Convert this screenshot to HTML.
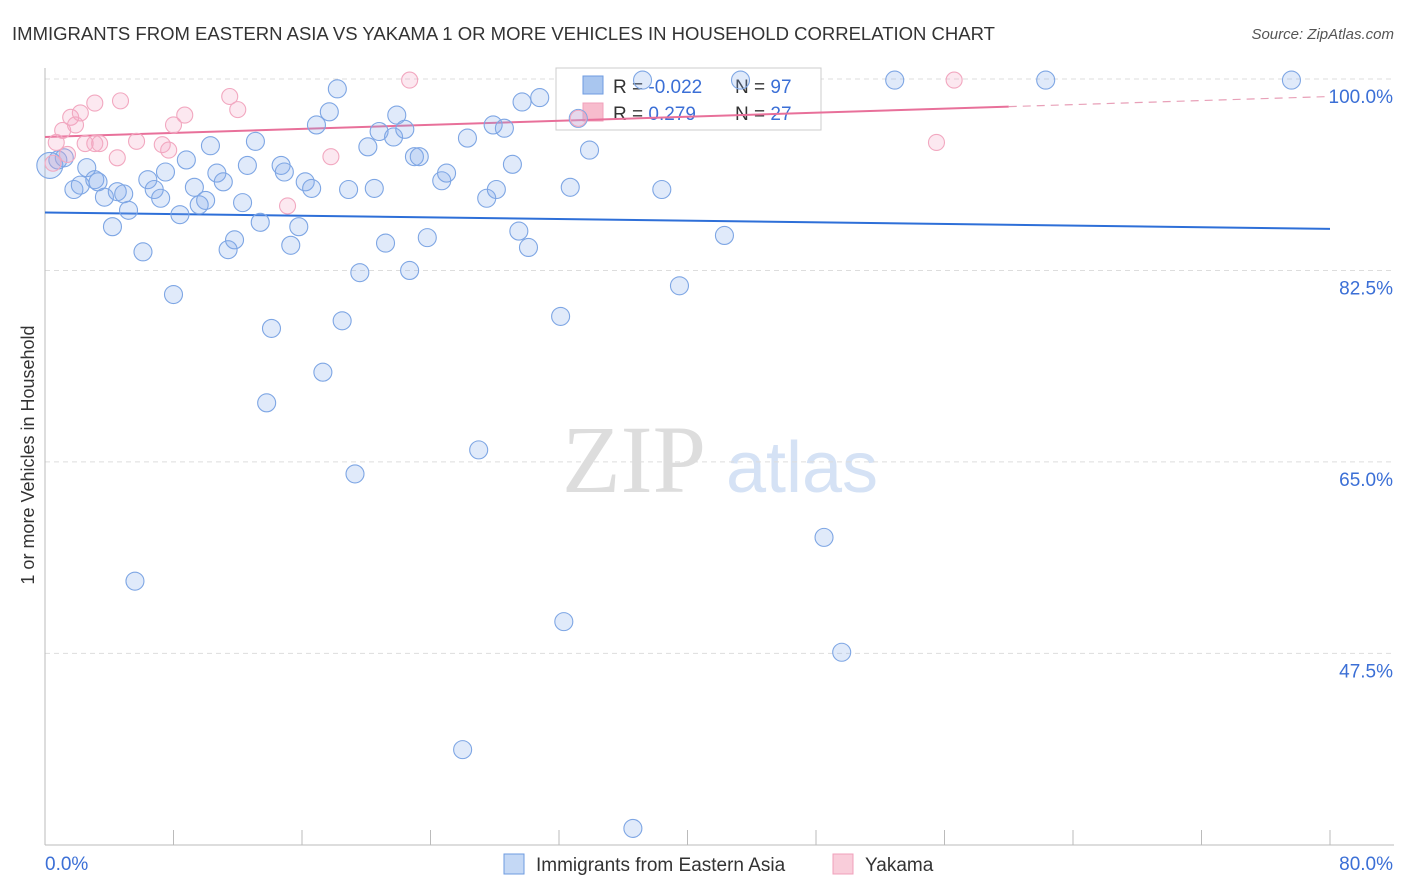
<!DOCTYPE html>
<html><head><meta charset="utf-8"><style>
body{margin:0;background:#fff;font-family:"Liberation Sans",sans-serif}
svg{display:block}
</style></head><body>
<svg id="chart" width="1406" height="892" xmlns="http://www.w3.org/2000/svg">
<text x="12" y="40" font-size="18" fill="#333" textLength="983" lengthAdjust="spacingAndGlyphs">IMMIGRANTS FROM EASTERN ASIA VS YAKAMA 1 OR MORE VEHICLES IN HOUSEHOLD CORRELATION CHART</text>
<text x="1394" y="39" font-size="15" fill="#555" font-style="italic" text-anchor="end">Source: ZipAtlas.com</text>
<text x="634" y="492" font-size="96" fill="#ddd" font-family="Liberation Serif,serif" text-anchor="middle">ZIP</text>
<text x="802" y="492" font-size="72" fill="#d5e2f5" text-anchor="middle">atlas</text>
<text x="34" y="455" font-size="18" fill="#333" text-anchor="middle" transform="rotate(-90 34 455)">1 or more Vehicles in Household</text>
<g id="grid"></g><g id="axes"></g>
<g>
<rect x="556" y="68" width="265" height="62" fill="#fff" stroke="#ccc"/>
<rect x="583" y="76" width="20" height="18" fill="#a9c6ef" stroke="#6e9be0"/>
<text x="613" y="93" font-size="19" fill="#333">R = <tspan fill="#3b6fd6">-0.022</tspan></text>
<text x="735" y="93" font-size="19" fill="#333">N = <tspan fill="#3b6fd6">97</tspan></text>
<rect x="583" y="103" width="20" height="18" fill="#f7bccd" stroke="#f0a0bb"/>
<text x="613" y="120" font-size="19" fill="#333">R = <tspan fill="#3b6fd6">  0.279</tspan></text>
<text x="735" y="120" font-size="19" fill="#333">N = <tspan fill="#3b6fd6">27</tspan></text>
</g>
<g id="trend"></g><g id="pts"></g>
<g>
<rect x="504" y="854" width="20" height="20" fill="#c4d8f5" stroke="#6e9be0"/>
<text x="536" y="871" font-size="19" fill="#333">Immigrants from Eastern Asia</text>
<rect x="833" y="854" width="20" height="20" fill="#f9cdda" stroke="#f0a0bb"/>
<text x="865" y="871" font-size="19" fill="#333">Yakama</text>
</g>
</svg>
<script>
const yTicks=[100,82.5,65,47.5];
const yTickLabels=["100.0%","82.5%","65.0%","47.5%"];
const blueX=[0.3,0.8,1.2,2.6,1.8,2.2,3.1,3.3,3.7,4.2,4.5,4.9,5.2,5.6,6.1,6.4,6.8,7.2,7.5,8.0,8.4,8.8,9.3,9.6,10.0,10.3,10.7,11.1,11.4,11.8,12.3,12.6,13.1,13.4,13.8,14.1,14.7,14.9,15.3,15.8,16.2,16.6,16.9,17.3,17.7,18.2,18.5,18.9,19.3,19.6,20.1,20.5,20.8,21.2,21.7,21.9,22.4,22.7,23.0,23.3,23.8,24.7,25.0,26.0,26.3,27.0,27.5,27.9,28.1,28.6,29.1,29.5,29.7,30.1,30.8,32.1,32.3,32.7,33.9,36.6,37.2,38.4,39.5,42.3,43.3,48.5,49.6,52.9,62.3,77.6,33.2];
const blueY=[92.1,92.6,92.8,91.9,89.9,90.3,90.8,90.6,89.2,86.5,89.7,89.5,88.0,54.1,84.2,90.8,89.9,89.1,91.5,80.3,87.6,92.6,90.1,88.5,88.9,93.9,91.4,90.6,84.4,85.3,88.7,92.1,94.3,86.9,70.4,77.2,92.1,91.5,84.8,86.5,90.6,90.0,95.8,73.2,97.0,99.1,77.9,89.9,63.9,82.3,93.8,90.0,95.2,85.0,94.7,96.7,95.4,82.5,92.9,92.9,85.5,90.7,91.4,38.7,94.6,66.1,89.1,95.8,89.9,95.5,92.2,86.1,97.9,84.6,98.3,78.3,50.4,90.1,93.5,31.5,99.9,89.9,81.1,85.7,99.9,58.1,47.6,99.9,99.9,99.9,96.4];
const pinkX=[0.5,0.7,1.1,1.6,1.9,2.2,2.5,3.1,3.1,3.4,4.5,4.7,5.7,7.3,7.7,8.0,8.7,11.5,12.0,15.1,17.8,22.7,55.5,56.6,33.2,1.4];
const pinkY=[92.3,94.2,95.3,96.5,95.8,96.9,94.1,97.8,94.1,94.1,92.8,98.0,94.3,94.0,93.5,95.8,96.7,98.4,97.2,88.4,92.9,99.9,94.2,99.9,96.4,93.1];
const blueTrend=[87.8,86.3];   // value at x=0, x=80
const pinkTrend=[94.7,98.4];   // value at x=0, x=80
const NS="http://www.w3.org/2000/svg";
const xs=v=>45+v*(1285/80), ys=v=>79+(100-v)*10.94;
function mk(tag,attrs,parent){const e=document.createElementNS(NS,tag);for(const k in attrs)e.setAttribute(k,attrs[k]);document.getElementById(parent).appendChild(e);return e;}
yTicks.forEach((t,i)=>{
 const g=mk('line',{x1:45,x2:1394,y1:ys(t),y2:ys(t),stroke:'#ddd','stroke-dasharray':'5,4'},'grid');
 
 
 const l=mk('text',{x:1393,y:ys(t)+24,'font-size':19,fill:'#3b6fd6','text-anchor':'end'},'grid');
 l.textContent=yTickLabels[i];
 
 
});
const ax=mk('line',{x1:45,x2:45,y1:68,y2:845,stroke:'#bbb'},'axes');


const bx=mk('line',{x1:45,x2:1394,y1:845,y2:845,stroke:'#bbb'},'axes');


for(let i=0;i<=10;i++){const t=mk('line',{x1:xs(i*8),x2:xs(i*8),y1:830,y2:845,stroke:'#bbb'},'axes');
 
 }
const x0=mk('text',{x:45,y:870,'font-size':19,fill:'#3b6fd6'},'axes');x0.textContent='0.0%';


const x1=mk('text',{x:1393,y:870,'font-size':19,fill:'#3b6fd6','text-anchor':'end'},'axes');x1.textContent='80.0%';


blueX.forEach((x,i)=>{const c=mk('circle',{cx:xs(x),cy:ys(blueY[i]),r:i==0?13:9,fill:'rgba(130,170,235,0.25)',stroke:'#7ea6e4','stroke-width':1.1},'pts');
 
 });
pinkX.forEach((x,i)=>{const c=mk('circle',{cx:xs(x),cy:ys(pinkY[i]),r:8,fill:'rgba(245,165,195,0.25)',stroke:'#f2a8c0','stroke-width':1.1},'pts');
 
 });
const bt=mk('line',{x1:xs(0),y1:ys(blueTrend[0]),x2:xs(80),y2:ys(blueTrend[1]),stroke:'#2e6fd8','stroke-width':2},'trend');


const pm=v=>pinkTrend[0]+(pinkTrend[1]-pinkTrend[0])*v/80;
const pt=mk('line',{x1:xs(0),y1:ys(pm(0)),x2:xs(60),y2:ys(pm(60)),stroke:'#e8709a','stroke-width':2},'trend');


const pd=mk('line',{x1:xs(60),y1:ys(pm(60)),x2:xs(80),y2:ys(pm(80)),stroke:'#e8a0b8','stroke-width':1.2,'stroke-dasharray':'8,6'},'trend');


</script>
</body></html>
